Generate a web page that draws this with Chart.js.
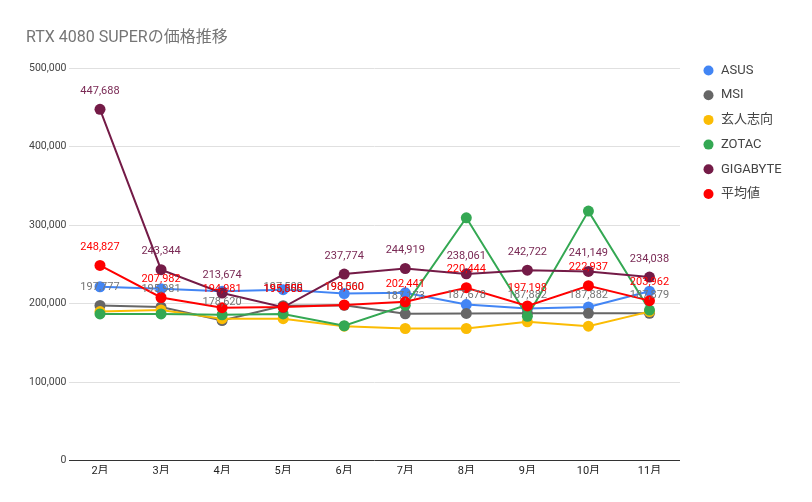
<!DOCTYPE html>
<html>
<head>
<meta charset="utf-8">
<script src="https://cdn.jsdelivr.net/npm/chart.js@4"></script>
<style>
html, body { margin: 0; padding: 0; background: #fff; }
</style>
</head>
<body>
<canvas id="chart" width="812" height="502"></canvas>
<script>
const months = ['2月', '3月', '4月', '5月', '6月', '7月', '8月', '9月', '10月', '11月'];

const asus     = [221670, 219000, 216000, 218000, 213000, 214000, 199000, 194000, 196000, 216000];
const msi      = [197777, 195981, 178620, 197500, 198000, 187173, 187678, 187882, 187882, 187879];
const kurouto  = [190000, 192000, 181000, 181000, 171500, 168500, 168500, 177000, 171500, 190000];
const zotac    = [187000, 187000, 186000, 187000, 172000, 198000, 309500, 184000, 318000, 192000];
const gigabyte = [447688, 243344, 213674, 195500, 237774, 244919, 238061, 242722, 241149, 234038];
const average  = [248827, 207982, 194981, 195855, 198560, 202441, 220444, 197198, 222937, 203962];

const seriesNames  = ['ASUS', 'MSI', '玄人志向', 'ZOTAC', 'GIGABYTE', '平均値'];
const seriesValues = [asus, msi, kurouto, zotac, gigabyte, average];
const seriesColors = ['#4285f4', '#666666', '#fbbc04', '#34a853', '#741b47', '#ff0000'];

// which series get value labels, and in what colour
const labelColors = { 1: '#757575', 4: '#7a2a55', 5: '#ff0000' };

const fontFamily = "Roboto, 'Noto Sans CJK JP', sans-serif";

const ctx = document.getElementById('chart').getContext('2d');

const valueLabels = {
    id: 'valueLabels',
    afterDatasetsDraw(chart) {
        const c = chart.ctx;
        c.save();
        c.font = '11px ' + fontFamily;
        c.textAlign = 'center';
        c.textBaseline = 'middle';
        Object.keys(labelColors).forEach(i => {
            const ds = chart.data.datasets[i];
            const meta = chart.getDatasetMeta(i);
            c.fillStyle = labelColors[i];
            meta.data.forEach((pt, j) => {
                c.fillText(ds.data[j].toLocaleString('en-US'), pt.x, pt.y - 18);
            });
        });
        c.restore();
    }
};

const sideLegend = {
    id: 'sideLegend',
    afterDraw(chart) {
        const c = chart.ctx;
        c.save();
        c.font = '13px ' + fontFamily;
        c.textBaseline = 'middle';
        chart.data.datasets.forEach((ds, i) => {
            const y = 70.5 + i * 24.7;
            c.fillStyle = ds.borderColor;
            c.beginPath();
            c.arc(708.5, y, 5, 0, Math.PI * 2);
            c.fill();
            c.fillStyle = '#444';
            c.fillText(ds.label, 721, y);
        });
        c.restore();
    }
};

const chart = new Chart(ctx, {
    type: 'line',
    data: {
        labels: months,
        datasets: seriesNames.map((name, i) => ({
            label: name,
            data: seriesValues[i],
            borderColor: seriesColors[i],
            backgroundColor: seriesColors[i],
            pointBackgroundColor: seriesColors[i],
            pointBorderWidth: 0,
            pointRadius: 5.5,
            borderWidth: 2,
            tension: 0,
            fill: false,
            order: seriesNames.length - i // later series on top
        }))
    },
    options: {
        responsive: false,
        animation: false,
        devicePixelRatio: 1,
        layout: { padding: { left: 26, right: 132, top: 0, bottom: 28 } },
        plugins: {
            legend: { display: false },
            tooltip: { enabled: false },
            title: {
                display: true,
                text: 'RTX 4080 SUPERの価格推移',
                align: 'start',
                color: '#757575',
                font: { family: fontFamily, size: 16, weight: 'normal' },
                padding: { top: 28, bottom: 21 }
            }
        },
        scales: {
            x: {
                offset: true,
                grid: { display: false },
                border: { display: false },
                ticks: { color: '#222', font: { family: fontFamily, size: 11 }, padding: -4 }
            },
            y: {
                min: 0,
                max: 500000,
                ticks: {
                    stepSize: 100000,
                    color: '#444',
                    font: { family: fontFamily, size: 10.5 },
                    padding: 3,
                    callback: v => v.toLocaleString('en-US')
                },
                grid: {
                    drawTicks: false,
                    color: c => c.tick && c.tick.value === 0 ? '#333' : '#e0e0e0'
                },
                border: { display: false }
            }
        }
    },
    plugins: [valueLabels, sideLegend]
});
</script>
</body>
</html>
